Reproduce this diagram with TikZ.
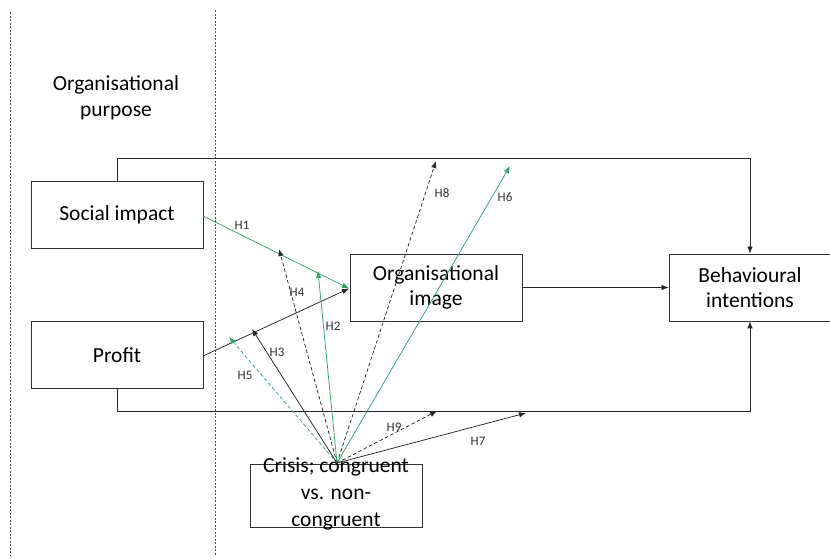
\documentclass[tikz,border=0pt]{standalone}
\usepackage{fontspec}
\setmainfont{Carlito}
\usetikzlibrary{arrows.meta}
\definecolor{hgreen}{RGB}{40,167,100}
\definecolor{boxline}{RGB}{50,50,50}
\begin{document}
\begin{tikzpicture}[x=1pt,y=-1pt,
  box/.style={draw=boxline,line width=0.8pt,minimum width=172pt,minimum height=67pt,inner sep=0pt,align=center,font=\fontsize{21.5}{25}\selectfont},
  conn/.style={line width=0.75pt,-{Latex[length=7pt,width=5.5pt]}},
  gline/.style={conn,draw=hgreen,color=hgreen},
  bline/.style={conn,draw=black!85},
  dsh/.style={dash pattern=on 3.5pt off 2.5pt},
  lab/.style={font=\fontsize{13}{15}\selectfont,text=black!80,inner sep=1pt},
  sep/.style={dash pattern=on 2pt off 1.5pt,line width=0.7pt,draw=black!70}]
\useasboundingbox (0,0) rectangle (830,558);
% separators
\coordinate (s1a) at (10,12); \coordinate (s1b) at (10,556);
\coordinate (s2a) at (215,10); \coordinate (s2b) at (215,556);
\draw[sep] (s1a) -- (s1b);
\draw[sep] (s2a) -- (s2b);
\node[align=center,font=\fontsize{21.5}{26}\selectfont] (purpose) at (116,98) {Organisational\\purpose};
% boxes
\node[box] (social) at (117,214.5) {Social impact};
\node[box] (profit) at (117,355) {Profit};
\node[box] (image) at (436,287.5) {Organisational\\image};
\node[box,minimum width=162pt] (behav) at (750,287.5) {Behavioural\\intentions};
\node[box,minimum height=63pt] (crisis) at (336,495.5) {};
\node[align=center,font=\fontsize{21.5}{27}\selectfont,inner sep=0pt] (crisistext) at (336,494) {Crisis; congruent\\vs. non-\\congruent};
% top and bottom connectors
\draw[bline] (social.north) -- ++(0,-22) -| (behav.north);
\draw[bline] (profit.south) -- ++(0,22) -| (behav.south);
\draw[bline] (image.east) -- (behav.west);
% H1 and profit -> image
\coordinate (imgin) at (349,288.5);
\draw[gline] (203,216) -- (imgin);
\draw[bline] (203,356) -- (imgin);
\node[lab] (h1) at (242,225) {H1};
% fan from crisis
\coordinate (src) at (337,463);
\coordinate (t5) at (229,337);
\coordinate (t3) at (252,329);
\coordinate (t4) at (279,249);
\coordinate (t2) at (318,271);
\coordinate (t8) at (436,161);
\coordinate (t6) at (510,166);
\coordinate (t9) at (437,411);
\coordinate (t7) at (526,413);
\draw[gline,dsh] (src) -- (t5);
\draw[bline] (src) -- (t3);
\draw[bline,dsh] (src) -- (t4);
\draw[gline] (src) -- (t2);
\draw[bline,dsh] (src) -- (t8);
\draw[gline] (src) -- (t6);
\draw[bline,dsh] (src) -- (t9);
\draw[bline] (src) -- (t7);
\node[lab] (h5) at (245,375) {H5};
\node[lab] (h3) at (277,352) {H3};
\node[lab] (h4) at (297,292) {H4};
\node[lab] (h2) at (333,326) {H2};
\node[lab] (h8) at (442,193) {H8};
\node[lab] (h6) at (505,197) {H6};
\node[lab] (h9) at (394,427) {H9};
\node[lab] (h7) at (478,441) {H7};
\end{tikzpicture}
\end{document}
